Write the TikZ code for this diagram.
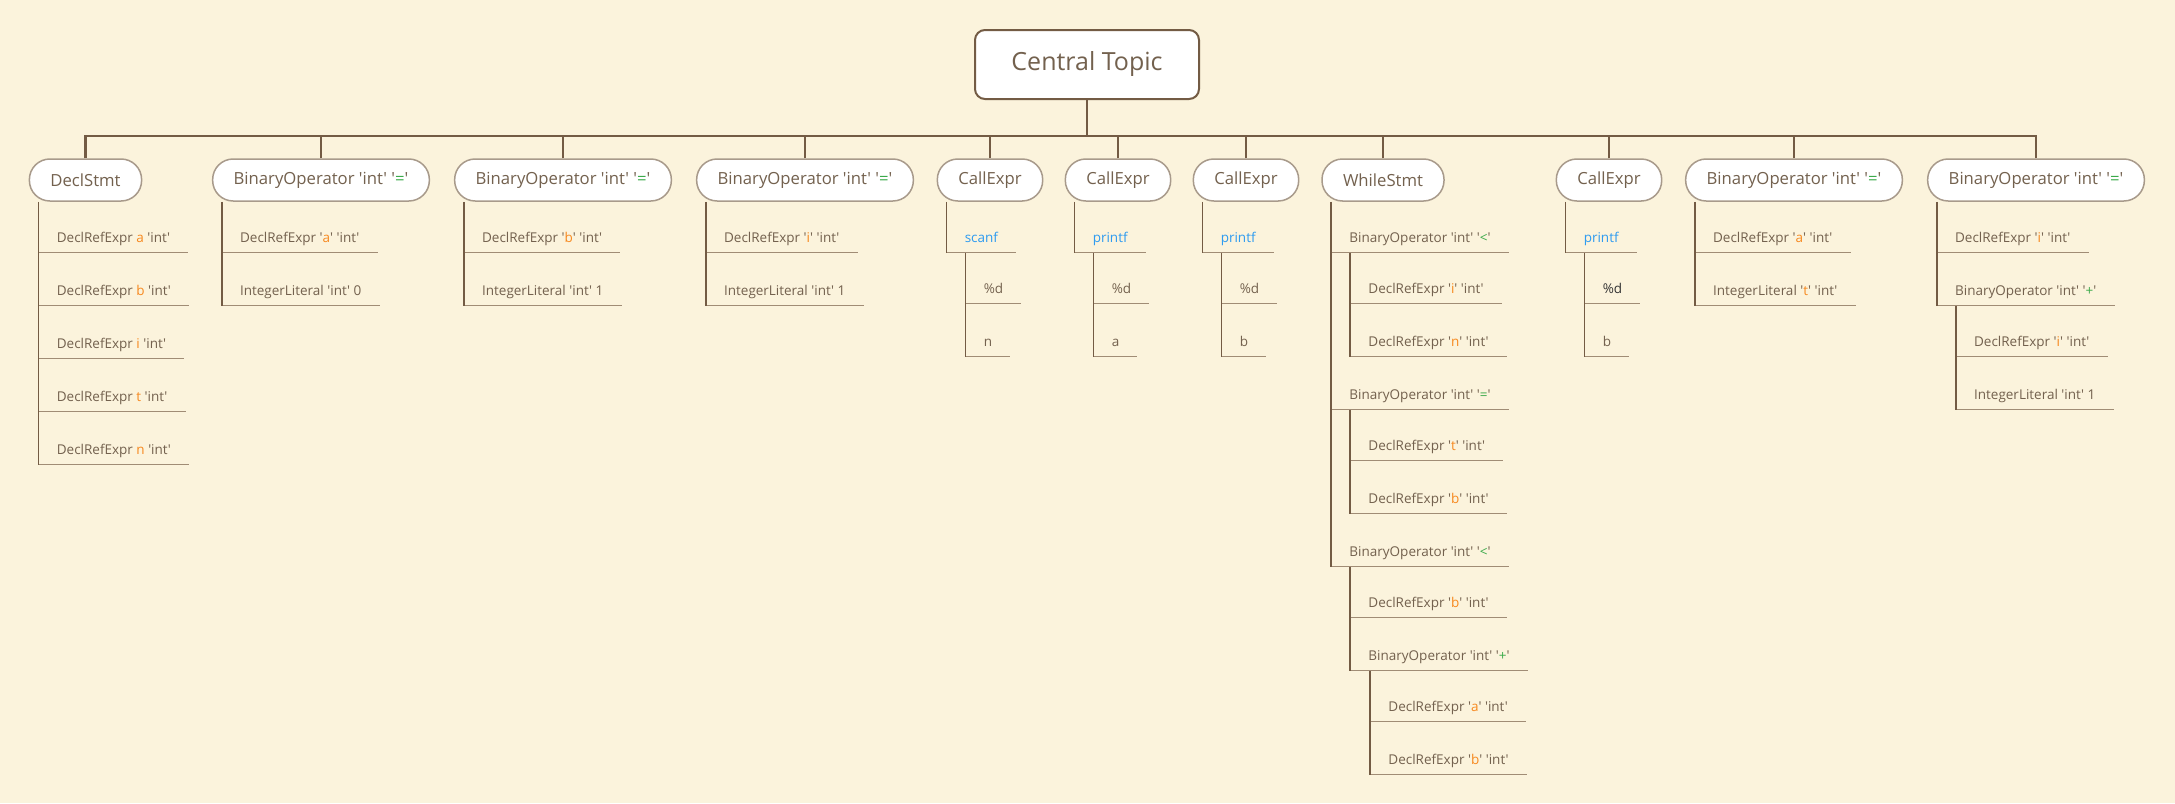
\documentclass[tikz,border=0pt]{standalone}
\usepackage{fontspec}
\newfontfamily\mapfont{Open Sans}
\usetikzlibrary{positioning}
\definecolor{Paper}{HTML}{FBF3DC}
\definecolor{Bark}{HTML}{735B44}
\definecolor{Rim}{HTML}{A89A8B}
\definecolor{Ink}{HTML}{73614E}
\definecolor{Rule}{HTML}{A08C75}
\definecolor{VarTone}{HTML}{F7891F}
\definecolor{OpTone}{HTML}{3BAA4A}
\definecolor{FnTone}{HTML}{2E9BF0}
\newcommand{\cvar}[1]{\textcolor{VarTone}{#1}}
\newcommand{\cop}[1]{\textcolor{OpTone}{#1}}
\newcommand{\cfn}[1]{\textcolor{FnTone}{#1}}

\begin{document}
\begin{tikzpicture}[
  x=1pt,y=-1pt,
  topic/.style={draw=Bark,line width=2pt,rounded corners=10pt,fill=white,minimum width=224pt,minimum height=69pt,font=\mapfont\fontsize{25}{30}\selectfont,text=Ink},
  stmt/.style={draw=Rim,line width=1.5pt,rounded corners=20.5pt,fill=white,minimum height=42pt,inner xsep=21pt,font=\mapfont\fontsize{16.7}{20}\selectfont,text=Ink},
  leaf/.style={anchor=south west,inner xsep=18pt,inner ysep=0pt,text depth=10pt,font=\mapfont\fontsize{13.5}{16}\selectfont,text=Ink,
    append after command={(\tikzlastnode.south west) edge[rule] (\tikzlastnode.south east)}},
  trunk/.style={draw=Bark,line width=2.3pt},
  spine/.style={draw=Bark,line width=1.6pt},
  rule/.style={draw=Rule,line width=1.3pt}]
  \useasboundingbox (0,0) rectangle (2175,803);
  \fill[Paper] (0,0) rectangle (2175,803);
  % root and first level
  \node[topic] (root) at (1087,64.5) {Central Topic};
  \coordinate (bar) at ([yshift=-36pt]root.south);
  \node[stmt] (decl) at (85.5,180) {DeclStmt};
  \node[stmt] (bo1) at (321,180) {BinaryOperator 'int' '\cop{=}'};
  \node[stmt] (bo2) at (563,180) {BinaryOperator 'int' '\cop{=}'};
  \node[stmt] (bo3) at (805,180) {BinaryOperator 'int' '\cop{=}'};
  \node[stmt] (ce1) at (990,180) {CallExpr};
  \node[stmt] (ce2) at (1118,180) {CallExpr};
  \node[stmt] (ce3) at (1246,180) {CallExpr};
  \node[stmt] (while) at (1383,180) {WhileStmt};
  \node[stmt] (ce4) at (1609,180) {CallExpr};
  \node[stmt] (bo5) at (1794,180) {BinaryOperator 'int' '\cop{=}'};
  \node[stmt] (bo6) at (2036,180) {BinaryOperator 'int' '\cop{=}'};
  \draw[trunk] (root.south) -- (bar);
  \foreach \n in {decl,bo1,bo2,bo3,ce1,ce2,ce3,while,ce4,bo5,bo6}
    \draw[trunk] (\n.north) |- (bar);
  % DeclStmt
  \node[leaf] (d1) at ([xshift=10pt,yshift=-51pt]decl.south west) {DeclRefExpr \cvar{a} 'int'};
  \node[leaf] (d2) at ([yshift=-53pt]d1.south west) {DeclRefExpr \cvar{b} 'int'};
  \node[leaf] (d3) at ([yshift=-53pt]d2.south west) {DeclRefExpr \cvar{i} 'int'};
  \node[leaf] (d4) at ([yshift=-53pt]d3.south west) {DeclRefExpr \cvar{t} 'int'};
  \node[leaf] (d5) at ([yshift=-53pt]d4.south west) {DeclRefExpr \cvar{n} 'int'};
  \draw[spine] ([xshift=10pt]decl.south west) -- (d5.south west);
  % assignments
  \node[leaf] (a1) at ([xshift=10pt,yshift=-51pt]bo1.south west) {DeclRefExpr '\cvar{a}' 'int'};
  \node[leaf] (a2) at ([yshift=-53pt]a1.south west) {IntegerLiteral 'int' 0};
  \draw[spine] ([xshift=10pt]bo1.south west) -- (a2.south west);
  \node[leaf] (b1) at ([xshift=10pt,yshift=-51pt]bo2.south west) {DeclRefExpr '\cvar{b}' 'int'};
  \node[leaf] (b2) at ([yshift=-53pt]b1.south west) {IntegerLiteral 'int' 1};
  \draw[spine] ([xshift=10pt]bo2.south west) -- (b2.south west);
  \node[leaf] (c1) at ([xshift=10pt,yshift=-51pt]bo3.south west) {DeclRefExpr '\cvar{i}' 'int'};
  \node[leaf] (c2) at ([yshift=-53pt]c1.south west) {IntegerLiteral 'int' 1};
  \draw[spine] ([xshift=10pt]bo3.south west) -- (c2.south west);
  % calls
  \node[leaf] (s1) at ([xshift=10pt,yshift=-51pt]ce1.south west) {\cfn{scanf}};
  \node[leaf] (s2) at ([xshift=19pt,yshift=-51pt]s1.south west) {\%d};
  \node[leaf] (s3) at ([yshift=-53pt]s2.south west) {n};
  \draw[spine] ([xshift=10pt]ce1.south west) -- (s1.south west);
  \draw[spine] ([xshift=19pt]s1.south west) -- (s3.south west);
  \node[leaf] (p1) at ([xshift=10pt,yshift=-51pt]ce2.south west) {\cfn{printf}};
  \node[leaf] (p2) at ([xshift=19pt,yshift=-51pt]p1.south west) {\%d};
  \node[leaf] (p3) at ([yshift=-53pt]p2.south west) {a};
  \draw[spine] ([xshift=10pt]ce2.south west) -- (p1.south west);
  \draw[spine] ([xshift=19pt]p1.south west) -- (p3.south west);
  \node[leaf] (q1) at ([xshift=10pt,yshift=-51pt]ce3.south west) {\cfn{printf}};
  \node[leaf] (q2) at ([xshift=19pt,yshift=-51pt]q1.south west) {\%d};
  \node[leaf] (q3) at ([yshift=-53pt]q2.south west) {b};
  \draw[spine] ([xshift=10pt]ce3.south west) -- (q1.south west);
  \draw[spine] ([xshift=19pt]q1.south west) -- (q3.south west);
  % loop
  \node[leaf] (w1) at ([xshift=10pt,yshift=-51pt]while.south west) {BinaryOperator 'int' '\cop{<}'};
  \node[leaf] (w1a) at ([xshift=19pt,yshift=-51pt]w1.south west) {DeclRefExpr '\cvar{i}' 'int'};
  \node[leaf] (w1b) at ([yshift=-53pt]w1a.south west) {DeclRefExpr '\cvar{n}' 'int'};
  \node[leaf] (w2) at ([yshift=-157pt]w1.south west) {BinaryOperator 'int' '\cop{=}'};
  \node[leaf] (w2a) at ([xshift=19pt,yshift=-51pt]w2.south west) {DeclRefExpr '\cvar{t}' 'int'};
  \node[leaf] (w2b) at ([yshift=-53pt]w2a.south west) {DeclRefExpr '\cvar{b}' 'int'};
  \node[leaf] (w3) at ([yshift=-157pt]w2.south west) {BinaryOperator 'int' '\cop{<}'};
  \node[leaf] (w3a) at ([xshift=19pt,yshift=-51pt]w3.south west) {DeclRefExpr '\cvar{b}' 'int'};
  \node[leaf] (w3b) at ([yshift=-53pt]w3a.south west) {BinaryOperator 'int' '\cop{+}'};
  \node[leaf] (w3c) at ([xshift=20pt,yshift=-51pt]w3b.south west) {DeclRefExpr '\cvar{a}' 'int'};
  \node[leaf] (w3d) at ([yshift=-53pt]w3c.south west) {DeclRefExpr '\cvar{b}' 'int'};
  \draw[spine] ([xshift=10pt]while.south west) -- (w3.south west);
  \draw[spine] ([xshift=19pt]w1.south west) -- (w1b.south west);
  \draw[spine] ([xshift=19pt]w2.south west) -- (w2b.south west);
  \draw[spine] ([xshift=19pt]w3.south west) -- (w3b.south west);
  \draw[spine] ([xshift=20pt]w3b.south west) -- (w3d.south west);
  % after the loop
  \node[leaf] (o1) at ([xshift=10pt,yshift=-51pt]ce4.south west) {\cfn{printf}};
  \node[leaf] (o2) at ([xshift=19pt,yshift=-51pt]o1.south west) {\textcolor{black!80}{\%d}};
  \node[leaf] (o3) at ([yshift=-53pt]o2.south west) {b};
  \draw[spine] ([xshift=10pt]ce4.south west) -- (o1.south west);
  \draw[spine] ([xshift=19pt]o1.south west) -- (o3.south west);
  \node[leaf] (e1) at ([xshift=10pt,yshift=-51pt]bo5.south west) {DeclRefExpr '\cvar{a}' 'int'};
  \node[leaf] (e2) at ([yshift=-53pt]e1.south west) {IntegerLiteral '\cvar{t}' 'int'};
  \draw[spine] ([xshift=10pt]bo5.south west) -- (e2.south west);
  \node[leaf] (r1) at ([xshift=10pt,yshift=-51pt]bo6.south west) {DeclRefExpr '\cvar{i}' 'int'};
  \node[leaf] (r2) at ([yshift=-53pt]r1.south west) {BinaryOperator 'int' '\cop{+}'};
  \node[leaf] (r2a) at ([xshift=19pt,yshift=-51pt]r2.south west) {DeclRefExpr '\cvar{i}' 'int'};
  \node[leaf] (r2b) at ([yshift=-53pt]r2a.south west) {IntegerLiteral 'int' 1};
  \draw[spine] ([xshift=10pt]bo6.south west) -- (r2.south west);
  \draw[spine] ([xshift=19pt]r2.south west) -- (r2b.south west);
\end{tikzpicture}
\end{document}
